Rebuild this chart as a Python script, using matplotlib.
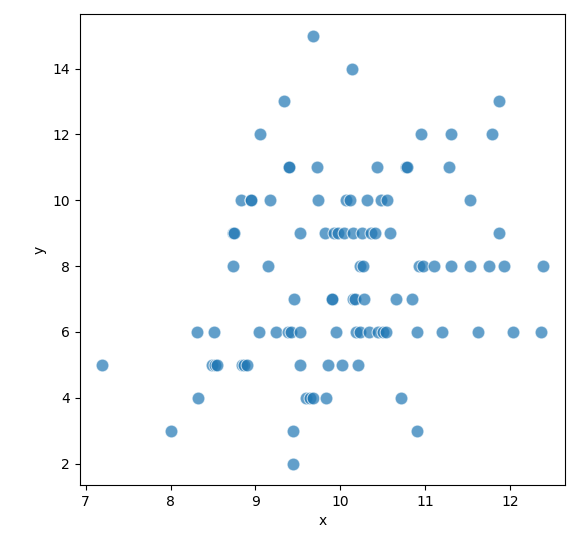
import matplotlib
matplotlib.use("Agg")
import matplotlib.pyplot as plt
import numpy as np

# x values of the points, grouped by their (integer) y value
x_y15 = [9.68]
x_y14 = [10.14]
x_y13 = [9.34, 11.87]
x_y12 = [9.06, 10.95, 11.31, 11.79]
x_y11 = [9.40, 9.40, 9.73, 10.43, 10.78, 10.79, 11.28]
x_y10 = [8.83, 8.95, 8.95, 9.17, 9.74, 10.07, 10.12, 10.32, 10.48, 10.55, 11.53]
x_y9 = [8.74, 8.75, 9.52, 9.82, 9.93, 9.97, 10.05, 10.15, 10.26, 10.36, 10.41, 10.59, 11.87]
x_y8 = [8.74, 9.15, 10.23, 10.27, 10.93, 10.98, 11.11, 11.30, 11.53, 11.75, 11.93, 12.39]
x_y7 = [9.46, 9.90, 9.90, 10.15, 10.17, 10.28, 10.66, 10.84]
x_y6 = [8.31, 8.51, 9.04, 9.24, 9.39, 9.42, 9.52, 9.95, 10.19, 10.23, 10.34, 10.44,
        10.50, 10.54, 10.90, 11.20, 11.62, 12.03, 12.36]
x_y5 = [7.19, 8.49, 8.52, 8.55, 8.84, 8.87, 8.90, 9.52, 9.86, 10.02, 10.21]
x_y4 = [8.32, 9.60, 9.64, 9.68, 9.83, 10.72]
x_y3 = [8.01, 9.44, 10.91]
x_y2 = [9.44]

groups = {15: x_y15, 14: x_y14, 13: x_y13, 12: x_y12, 11: x_y11, 10: x_y10, 9: x_y9,
          8: x_y8, 7: x_y7, 6: x_y6, 5: x_y5, 4: x_y4, 3: x_y3, 2: x_y2}

x = []
y = []
for yv, xs in groups.items():
    x += xs
    y += [yv] * len(xs)

fig = plt.figure(figsize=(5.82, 5.45), dpi=100)
ax = fig.add_axes([0.137, 0.110, 0.834, 0.864])
ax.scatter(x, y, s=85, color="#1f77b4", alpha=0.7, edgecolors="white", linewidths=0.8)
ax.set_xlabel("x")
ax.set_ylabel("y")
ax.set_yticks([2, 4, 6, 8, 10, 12, 14])
fig.savefig("out.png", dpi=100)
